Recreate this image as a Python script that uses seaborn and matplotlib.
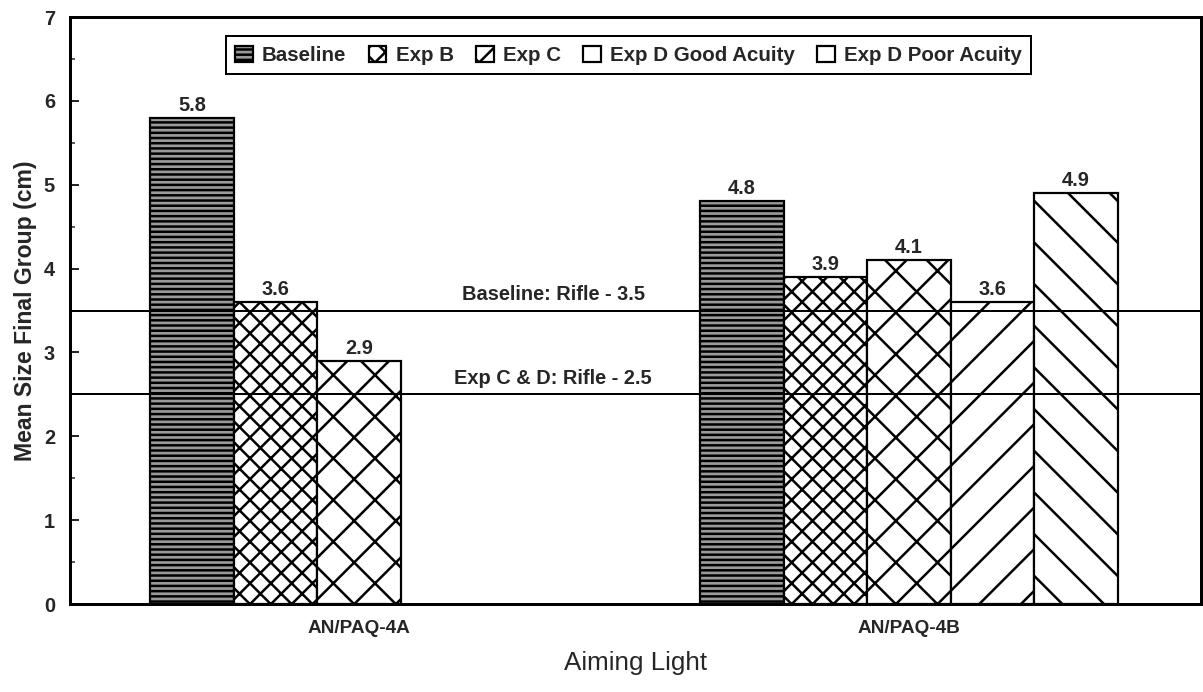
import matplotlib
matplotlib.use('Agg')
import matplotlib.pyplot as plt
import seaborn as sns
import pandas as pd
from matplotlib.ticker import MultipleLocator

# ---- data ----
lights = ["AN/PAQ-4A", "AN/PAQ-4B"]
conditions = ["Baseline", "Exp B", "Exp C", "Exp D Good Acuity", "Exp D Poor Acuity"]
paq4a_values = [5.8, 3.6, 2.9, None, None]
paq4b_values = [4.8, 3.9, 4.1, 3.6, 4.9]
ref_values = [3.5, 2.5]
ref_labels = ["Baseline: Rifle - 3.5", "Exp C & D: Rifle - 2.5"]
yticks = [0, 1, 2, 3, 4, 5, 6, 7]

# ---- styles ----
hatches = {"Baseline": "-" * 8, "Exp B": "xxxx", "Exp C": "xx",
           "Exp D Good Acuity": "//", "Exp D Poor Acuity": "\\\\"}
fills = {"Baseline": "#9a9a9a", "Exp B": "white", "Exp C": "white",
         "Exp D Good Acuity": "white", "Exp D Poor Acuity": "white"}

rows = []
for light, vals in zip(lights, [paq4a_values, paq4b_values]):
    for cond, v in zip(conditions, vals):
        if v is not None:
            rows.append({"light": light, "cond": cond, "value": v})
df = pd.DataFrame(rows)

DPI = 250
def pt(px):
    return px * 72.0 / DPI

sns.set_style("ticks")
plt.rcParams["font.family"] = ["Liberation Sans", "DejaVu Sans"]
plt.rcParams["hatch.linewidth"] = pt(2.5)
plt.rcParams["hatch.color"] = "black"

fig = plt.figure(figsize=(1203 / DPI, 692 / DPI), dpi=DPI)
ax = fig.add_axes([70 / 1203, 1 - 604 / 692, (1201 - 70) / 1203, (604 - 17) / 692])

sns.barplot(data=df, x="light", y="value", hue="cond", order=lights,
            hue_order=conditions, palette=fills, width=0.759, gap=0,
            edgecolor="black", linewidth=pt(2.2), saturation=1, ax=ax,
            legend=False, errorbar=None)

handles = {}
for lab, c in zip(conditions, ax.containers):
    for p in c.patches:
        p.set_hatch(hatches[lab])
        p.set_edgecolor("black")
    handles[lab] = c.patches[0]
    ax.bar_label(c, fmt="%.1f", padding=pt(3), fontsize=pt(20), fontweight="bold")

for v, lab in zip(ref_values, ref_labels):
    ax.axhline(v, color="black", lw=pt(2), zorder=3)
    ax.text(0.353, v + 0.08, lab, ha="center", va="bottom",
            fontsize=pt(20), fontweight="bold")

ax.set_xlim(-0.5255, 1.531)
ax.set_ylim(0, 7)
ax.set_yticks(yticks)
ax.yaxis.set_minor_locator(MultipleLocator(0.5))
ax.tick_params(axis="y", which="major", direction="in", length=pt(9), width=pt(2),
               labelsize=pt(20), pad=pt(15))
ax.tick_params(axis="y", which="minor", direction="in", length=pt(5), width=pt(1.5))
ax.tick_params(axis="x", direction="in", length=pt(9), width=pt(1.5),
               labelsize=pt(19), pad=pt(16))
for t in ax.get_xticklabels() + ax.get_yticklabels():
    t.set_fontweight("bold")

for s in ax.spines.values():
    s.set_linewidth(pt(3))
    s.set_color("black")

ax.set_xlabel("Aiming Light", fontsize=pt(26), labelpad=pt(14))
ax.set_ylabel("Mean Size Final Group (cm)", fontsize=pt(23), fontweight="bold",
              labelpad=pt(7))

leg = ax.legend([handles[c] for c in conditions], conditions, loc="center",
                bbox_to_anchor=(0.494, 0.935), ncol=5, frameon=True,
                fancybox=False, edgecolor="black", framealpha=1,
                handlelength=0.85, handleheight=0.85, columnspacing=1.1,
                handletextpad=0.45, borderpad=0.45,
                prop={"weight": "bold", "size": pt(20.5)})
leg.get_frame().set_linewidth(pt(2))

fig.savefig("out.png", dpi=DPI)
